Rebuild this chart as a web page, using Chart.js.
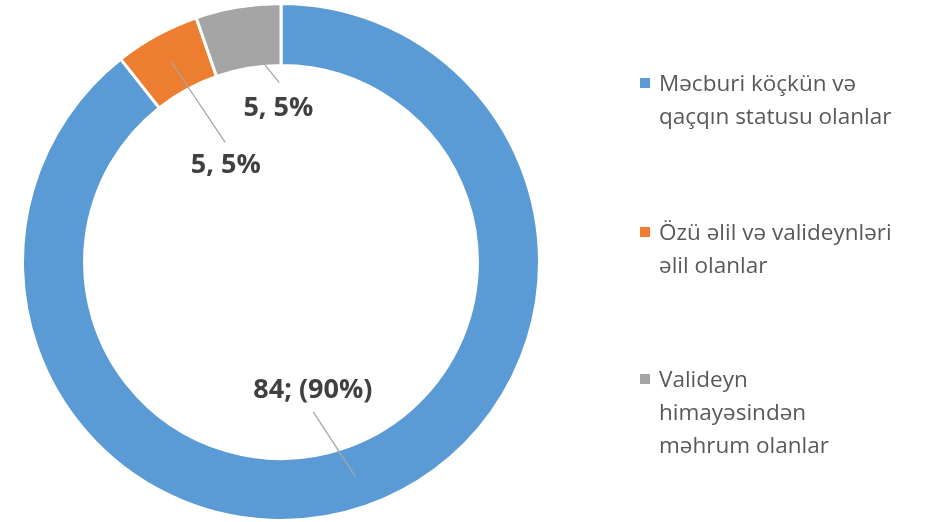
<!DOCTYPE html>
<html>
<head>
<meta charset="utf-8">
<script src="https://cdn.jsdelivr.net/npm/chart.js@4/dist/chart.umd.min.js"></script>
<style>
  html, body { margin: 0; padding: 0; background: #ffffff; }
  #wrap { position: relative; width: 930px; height: 522px; }
  #chart { position: absolute; left: 0; top: 0; }
  #legend-wrapper { position: absolute; left: 638px; top: 0; font-family: 'Open Sans', 'Noto Sans', sans-serif; font-size: 22.5px; color: #595959; }
  .legend-item { position: absolute; left: 0; white-space: nowrap; line-height: 33px; }
  .legend-color { position: absolute; left: 2px; top: 12px; width: 10px; height: 10px; }
  .legend-text { position: absolute; left: 21px; top: 0; }
</style>
</head>
<body>
<div id="wrap">
  <canvas id="chart" width="930" height="522"></canvas>
  <div id="legend-wrapper"></div>
</div>
<script>
// data
const categories = [
    ['Məcburi köçkün və', 'qaçqın statusu olanlar'],
    ['Özü əlil və valideynləri', 'əlil olanlar'],
    ['Valideyn', 'himayəsindən', 'məhrum olanlar']
];
const counts = [84, 5, 5];
const percents = [90, 5, 5];
const colors = ['#5B9BD5', '#ED7D31', '#A5A5A5'];

// label text as in the source ("84; (90%)" vs "5, 5%")
const labelTexts = counts.map((v, i) => i === 0 ? `${v}; (${percents[i]}%)` : `${v}, ${percents[i]}%`);

// label placement: angle shift (deg) from slice middle, radius as share of outer radius
const labelPlace = [
    { lineEnd: [7, 0.593], text: [5.2, 0.512] },
    { lineEnd: [3.7, 0.512], text: [-0.9, 0.432] },
    { lineEnd: [9.0, 0.694], text: [8.6, 0.593] }
];

const legendTop = [66, 215, 362];

// custom plugin for labels with leader lines
const sliceLabels = {
    id: 'sliceLabels',
    afterDatasetsDraw: (chart) => {
        const ctx = chart.ctx;
        const arcs = chart.getDatasetMeta(0).data;
        ctx.save();
        arcs.forEach((arc, i) => {
            const cx = arc.x, cy = arc.y;
            const R = arc.outerRadius;
            const mid = (arc.startAngle + arc.endAngle) / 2;
            const midR = (arc.outerRadius + arc.innerRadius) / 2;
            const pt = (ang, r) => [cx + Math.cos(ang) * r, cy + Math.sin(ang) * r];
            const p = labelPlace[i];
            const a = pt(mid, midR);
            const b = pt(mid + p.lineEnd[0] * Math.PI / 180, p.lineEnd[1] * R);
            const t = pt(mid + p.text[0] * Math.PI / 180, p.text[1] * R);
            ctx.strokeStyle = '#A6A6A6';
            ctx.lineWidth = 1.3;
            ctx.beginPath();
            ctx.moveTo(a[0], a[1]);
            ctx.lineTo(b[0], b[1]);
            ctx.stroke();
            ctx.fillStyle = '#404040';
            ctx.font = "bold 27px 'Open Sans', 'Noto Sans', sans-serif";
            ctx.textAlign = 'center';
            ctx.textBaseline = 'middle';
            ctx.fillText(labelTexts[i], t[0], t[1]);
        });
        ctx.restore();
    }
};

const config = {
    type: 'doughnut',
    data: {
        labels: categories,
        datasets: [{
            data: counts,
            backgroundColor: colors,
            borderColor: '#ffffff',
            borderWidth: 3,
            hoverOffset: 0
        }]
    },
    options: {
        responsive: false,
        animation: false,
        cutout: '76%',
        layout: { padding: { left: 0, right: 368, top: 2, bottom: 0 } },
        plugins: {
            legend: { display: false },
            tooltip: { enabled: false }
        }
    },
    plugins: [sliceLabels]
};

const myChart = new Chart(document.getElementById('chart'), config);

// html legend
const legendContainer = document.getElementById('legend-wrapper');
categories.forEach((lines, i) => {
    const item = document.createElement('div');
    item.className = 'legend-item';
    item.style.top = legendTop[i] + 'px';
    const box = document.createElement('div');
    box.className = 'legend-color';
    box.style.backgroundColor = colors[i];
    const text = document.createElement('div');
    text.className = 'legend-text';
    text.innerHTML = lines.join('<br>');
    item.appendChild(box);
    item.appendChild(text);
    legendContainer.appendChild(item);
});
</script>
</body>
</html>
